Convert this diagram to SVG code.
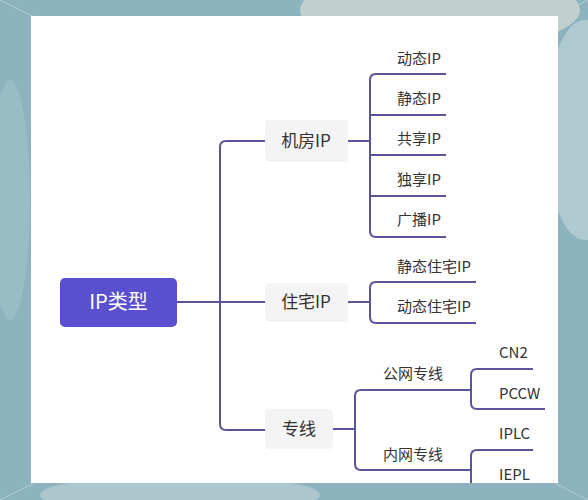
<svg xmlns="http://www.w3.org/2000/svg" width="588" height="500" viewBox="0 0 588 500">
<defs>
<style>
.conn{fill:none;stroke:#5a5499;stroke-width:2;stroke-linecap:square}
.box{fill:#f4f4f4}
.t1{font-family:"Noto Sans CJK SC","Noto Sans",sans-serif;font-size:17px;fill:#333;text-anchor:middle}
.t2{font-family:"Noto Sans CJK SC","Noto Sans",sans-serif;font-size:15px;fill:#333}
.root{font-family:"Noto Sans CJK SC","Noto Sans",sans-serif;font-size:20px;fill:#fff;text-anchor:middle}
</style>
<clipPath id="panel"><rect x="31" y="16" width="527" height="467"/></clipPath>
</defs>
<g id="background">
<rect x="0" y="0" width="588" height="500" fill="#8db3bf"/>
<ellipse cx="440" cy="10" rx="140" ry="40" fill="#d9dcd6" opacity="0.7"/>
<ellipse cx="585" cy="130" rx="40" ry="110" fill="#c6d8dc" opacity="0.6"/>
<ellipse cx="180" cy="495" rx="140" ry="20" fill="#b9cfd3" opacity="0.7"/>
<ellipse cx="10" cy="200" rx="20" ry="120" fill="#a3c2ca" opacity="0.6"/>
<path d="M0,0 L120,60 M588,0 L470,60 M0,500 L120,440 M588,500 L470,440" stroke="#c7dadf" stroke-width="1" opacity="0.6"/>
<rect x="31" y="16" width="527" height="467" fill="#ffffff"/>
</g>
<g clip-path="url(#panel)">
<g id="connectors">
<path class="conn" d="M177,302 H265"/>
<path class="conn" d="M265,141 H226 Q220,141 220,147 V424 Q220,430 226,430 H265"/>
<path class="conn" d="M348,141 H370"/>
<path class="conn" d="M445,74 H376 Q370,74 370,80 V231 Q370,237 376,237 H445"/>
<path class="conn" d="M370,115 H445 M370,155 H445 M370,196 H445"/>
<path class="conn" d="M348,302 H370"/>
<path class="conn" d="M475,282 H376 Q370,282 370,288 V317 Q370,323 376,323 H475"/>
<path class="conn" d="M333,429 H355"/>
<path class="conn" d="M470,390 H361 Q355,390 355,396 V464 Q355,470 361,470 H470"/>
<path class="conn" d="M532,369 H477 Q471,369 471,375 V403 Q471,409 477,409 H544"/>
<path class="conn" d="M532,450 H477 Q471,450 471,456 V490"/>
</g>
<g id="node-root">
<rect x="60" y="278" width="117" height="49" rx="5" fill="#5a4fcf"/>
<text class="root" x="118.5" y="309">IP类型</text>
</g>
<g id="node-jifang">
<rect class="box" x="265" y="120" width="83" height="42" rx="4"/>
<text class="t1" x="306" y="147">机房IP</text>
</g>
<g id="node-zhuzhai">
<rect class="box" x="265" y="283" width="83" height="39" rx="4"/>
<text class="t1" x="306" y="308">住宅IP</text>
</g>
<g id="node-zhuanxian">
<rect class="box" x="265" y="409" width="68" height="40" rx="4"/>
<text class="t1" x="299" y="435">专线</text>
</g>
<g id="leaf-dongtai"><text class="t2" x="397" y="64">动态IP</text></g>
<g id="leaf-jingtai"><text class="t2" x="397" y="104">静态IP</text></g>
<g id="leaf-gongxiang"><text class="t2" x="397" y="144">共享IP</text></g>
<g id="leaf-duxiang"><text class="t2" x="397" y="185">独享IP</text></g>
<g id="leaf-guangbo"><text class="t2" x="397" y="225">广播IP</text></g>
<g id="leaf-jingtaizhuzhai"><text class="t2" x="397" y="272">静态住宅IP</text></g>
<g id="leaf-dongtaizhuzhai"><text class="t2" x="397" y="312">动态住宅IP</text></g>
<g id="node-gongwang"><text class="t2" x="383" y="379">公网专线</text></g>
<g id="node-neiwang"><text class="t2" x="383" y="460">内网专线</text></g>
<g id="leaf-cn2"><text class="t2" x="499" y="358">CN2</text></g>
<g id="leaf-pccw"><text class="t2" x="499" y="399">PCCW</text></g>
<g id="leaf-iplc"><text class="t2" x="499" y="439">IPLC</text></g>
<g id="leaf-iepl"><text class="t2" x="499" y="480">IEPL</text></g>
</g>
</svg>
